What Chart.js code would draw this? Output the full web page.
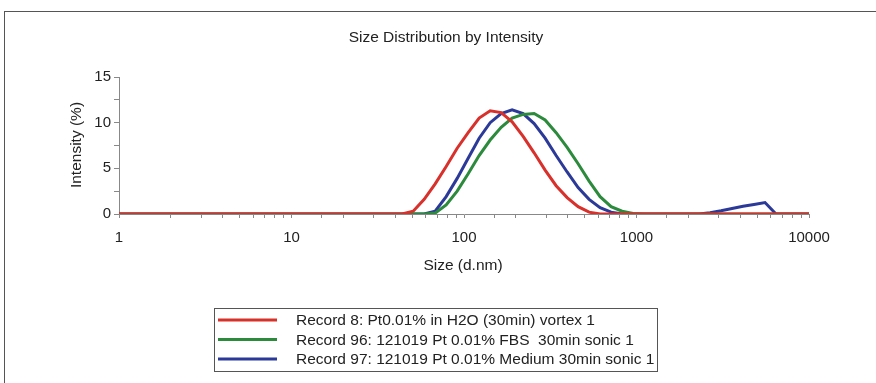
<!DOCTYPE html>
<html>
<head>
<meta charset="utf-8">
<script src="https://cdn.jsdelivr.net/npm/chart.js@4.4.0/dist/chart.umd.min.js"></script>
<style>
  body { margin: 0; background: #fff; }
  #wrap { width: 876px; height: 383px; }
</style>
</head>
<body>
<div id="wrap"><canvas id="chart" width="876" height="383"></canvas></div>
<script>
// Size bins (d.nm), log spaced
var sizes = [0.9649, 1.117, 1.294, 1.499, 1.736, 2.010, 2.328, 2.696, 3.122, 3.615,
  4.187, 4.849, 5.615, 6.503, 7.531, 8.721, 10.10, 11.70, 13.54, 15.69,
  18.17, 21.04, 24.36, 28.21, 32.67, 37.84, 43.82, 50.75, 58.77, 68.06,
  78.82, 91.28, 105.7, 122.4, 141.8, 164.2, 190.1, 220.2, 255.0, 295.3,
  342.0, 396.1, 458.7, 531.2, 615.1, 712.4, 825.0, 955.4, 1106, 1281,
  1484, 1718, 1990, 2305, 2669, 3091, 3580, 4145, 4801, 5560,
  6439, 7456, 8635, 10000];

// Intensity (%) per bin
var record8 = [0, 0, 0, 0, 0, 0, 0, 0, 0, 0,
  0, 0, 0, 0, 0, 0, 0, 0, 0, 0,
  0, 0, 0, 0, 0, 0, 0, 0.3, 1.6, 3.3,
  5.2, 7.2, 8.9, 10.5, 11.3, 11.1, 10.1, 8.5, 6.7, 4.8,
  3.1, 1.8, 0.8, 0.2, 0, 0, 0, 0, 0, 0,
  0, 0, 0, 0, 0, 0, 0, 0, 0, 0,
  0, 0, 0, 0];
var record96 = [0, 0, 0, 0, 0, 0, 0, 0, 0, 0,
  0, 0, 0, 0, 0, 0, 0, 0, 0, 0,
  0, 0, 0, 0, 0, 0, 0, 0, 0, 0.1,
  1.0, 2.5, 4.4, 6.4, 8.1, 9.5, 10.5, 10.9, 11.0, 10.3,
  8.9, 7.3, 5.5, 3.6, 1.9, 0.8, 0.3, 0.05, 0, 0,
  0, 0, 0, 0, 0, 0, 0, 0, 0, 0,
  0, 0, 0, 0];
var record97 = [0, 0, 0, 0, 0, 0, 0, 0, 0, 0,
  0, 0, 0, 0, 0, 0, 0, 0, 0, 0,
  0, 0, 0, 0, 0, 0, 0, 0, 0, 0.3,
  1.9, 3.9, 6.1, 8.3, 10.0, 11.0, 11.4, 11.0, 9.9, 8.3,
  6.4, 4.6, 2.9, 1.6, 0.7, 0.2, 0, 0, 0, 0,
  0, 0, 0, 0, 0.15, 0.35, 0.6, 0.85, 1.05, 1.25,
  0, 0, 0, 0];

var seriesLabels = [
  "Record 8: Pt0.01% in H2O (30min) vortex 1",
  "Record 96: 121019 Pt 0.01% FBS  30min sonic 1",
  "Record 97: 121019 Pt 0.01% Medium 30min sonic 1"
];
var seriesColors = ["#d8302b", "#2c8a3c", "#2b3a98"];
var xTickLabels = ["1", "10", "100", "1000", "10000"];
var yTickLabels = ["0", "5", "10", "15"];

var FONT = "'Liberation Sans', Arial, sans-serif";

function toPoints(vals) {
  return sizes.map(function(s, i) { return { x: s, y: vals[i] }; });
}

// Frame, title, axis titles and boxed legend
var decor = {
  id: "decor",
  afterDraw: function(chart) {
    var ctx = chart.ctx;
    ctx.save();
    ctx.strokeStyle = "#555";
    ctx.lineWidth = 1;
    ctx.beginPath();
    ctx.moveTo(4, 11.5); ctx.lineTo(876, 11.5);
    ctx.moveTo(4.5, 11); ctx.lineTo(4.5, 383);
    ctx.stroke();

    ctx.fillStyle = "#222";
    ctx.textAlign = "center";
    ctx.textBaseline = "middle";
    ctx.font = "15.5px " + FONT;
    ctx.fillText("Size Distribution by Intensity", 446, 38);
    ctx.fillText("Size (d.nm)", 463, 266);

    ctx.save();
    ctx.translate(77, 145);
    ctx.rotate(-Math.PI / 2);
    ctx.fillText("Intensity (%)", 0, 0);
    ctx.restore();

    // legend
    ctx.strokeStyle = "#555";
    ctx.lineWidth = 1;
    ctx.strokeRect(214.5, 308.5, 443, 63);
    ctx.textAlign = "left";
    chart.data.datasets.forEach(function(ds, i) {
      var y = 320 + i * 19.5;
      ctx.strokeStyle = ds.borderColor;
      ctx.lineWidth = 3;
      ctx.beginPath();
      ctx.moveTo(218, y); ctx.lineTo(277, y);
      ctx.stroke();
      ctx.fillStyle = "#222";
      ctx.fillText(ds.label, 296, y + 1);
    });
    ctx.restore();
  }
};

new Chart(document.getElementById("chart"), {
  type: "line",
  data: {
    datasets: [record8, record96, record97].map(function(vals, i) {
      return {
        label: seriesLabels[i],
        data: toPoints(vals),
        borderColor: seriesColors[i],
        borderWidth: 3,
        pointRadius: 0,
        tension: 0,
        fill: false
      };
    })
  },
  options: {
    responsive: false,
    animation: false,
    layout: { padding: { left: 0, top: 77, right: 67, bottom: 0 } },
    plugins: {
      legend: { display: false },
      title: { display: false },
      tooltip: { enabled: false }
    },
    scales: {
      x: {
        type: "logarithmic",
        min: 1,
        max: 10000,
        afterFit: function(s) { s.height = 169; },
        grid: { drawOnChartArea: false, drawTicks: true, tickLength: 4, color: "#888" },
        border: { color: "#888" },
        ticks: {
          autoSkip: false,
          maxRotation: 0,
          padding: 11,
          color: "#222",
          font: { family: FONT, size: 15 },
          callback: function(v) {
            var s = String(Math.round(v));
            var lg = Math.log10(v);
            return (Math.abs(lg - Math.round(lg)) < 1e-6 && xTickLabels.indexOf(s) >= 0) ? s : "";
          }
        }
      },
      y: {
        min: 0,
        max: 15,
        afterFit: function(s) { s.width = 119; },
        grid: { drawOnChartArea: false, drawTicks: true, tickLength: 5, color: "#888" },
        border: { color: "#888" },
        ticks: {
          stepSize: 2.5,
          padding: 3,
          color: "#222",
          font: { family: FONT, size: 15 },
          callback: function(v) {
            var s = String(v);
            return yTickLabels.indexOf(s) >= 0 ? s : "";
          }
        }
      }
    }
  },
  plugins: [decor]
});
</script>
</body>
</html>
